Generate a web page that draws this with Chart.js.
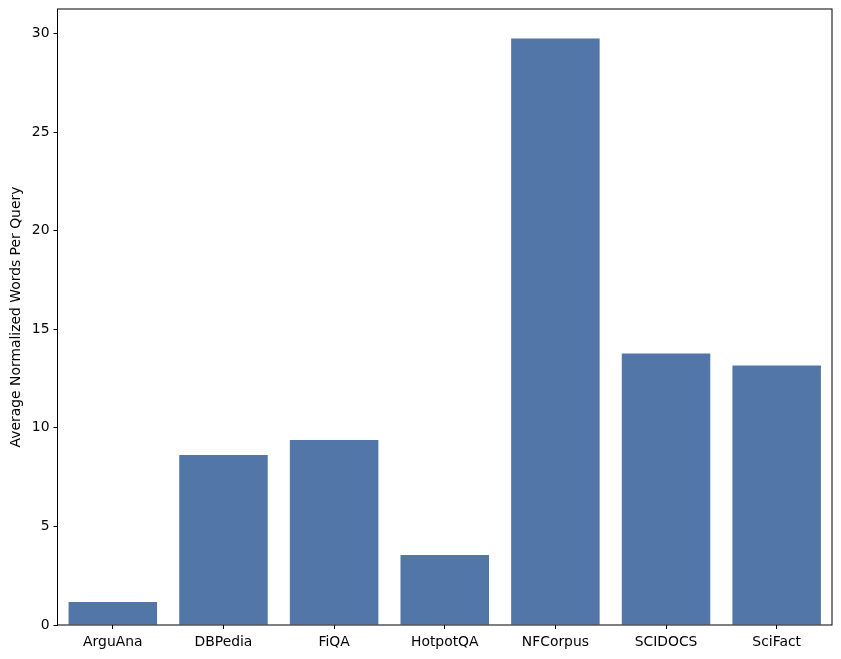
<!DOCTYPE html>
<html>
<head>
<meta charset="utf-8">
<script src="https://cdn.jsdelivr.net/npm/chart.js@4"></script>
<style>
html,body{margin:0;padding:0;background:#fff}
#wrap{width:841px;height:659px}
</style>
</head>
<body>
<div id="wrap"><canvas id="wordsChart" width="841" height="659"></canvas></div>
<script>
const datasets_names = ["ArguAna","DBPedia","FiQA","HotpotQA","NFCorpus","SCIDOCS","SciFact"]
const avg_words = [1.17,8.62,9.38,3.55,29.75,13.77,13.16]
const y_ticks = [0,5,10,15,20,25,30]

const frameBox = {
id:"frameBox",
afterDraw(chart){
const a = chart.chartArea
const c = chart.ctx
c.save()
c.strokeStyle = "#000"
c.lineWidth = 1
c.strokeRect(a.left,a.top,a.right-a.left,a.bottom-a.top)
c.restore()
}
}

Chart.defaults.font.family = "'DejaVu Sans', sans-serif"
Chart.defaults.font.size = 13.9
Chart.defaults.color = "#000"

const ctx = document.getElementById("wordsChart").getContext("2d")

new Chart(ctx,{
type:"bar",
data:{
labels:datasets_names,
datasets:[{
data:avg_words,
backgroundColor:"rgb(82,118,167)",
borderWidth:0,
categoryPercentage:1,
barPercentage:0.8
}]
},
options:{
responsive:false,
animation:false,
layout:{padding:{left:0,top:9,right:9,bottom:0}},
plugins:{legend:{display:false},tooltip:{enabled:false}},
scales:{
x:{
grid:{display:true,offset:false,drawOnChartArea:false,drawTicks:true,tickLength:4,color:"#000"},
border:{display:false},
ticks:{padding:5,maxRotation:0,font:{size:13.9}},
afterFit(scale){scale.height = 34; scale.paddingLeft = 0; scale.paddingRight = 0}
},
y:{
min:0,
max:31.24,
afterBuildTicks(scale){scale.ticks = y_ticks.map(v=>({value:v}))},
grid:{display:true,drawOnChartArea:false,drawTicks:true,tickLength:4,color:"#000"},
border:{display:false},
ticks:{padding:4,font:{size:13.9}},
title:{display:true,text:"Average Normalized Words Per Query",font:{size:13.9},padding:{top:8,bottom:0}},
afterFit(scale){scale.width = 57.5; scale.paddingTop = 0; scale.paddingBottom = 0}
}
}
},
plugins:[frameBox]
})
</script>
</body>
</html>
